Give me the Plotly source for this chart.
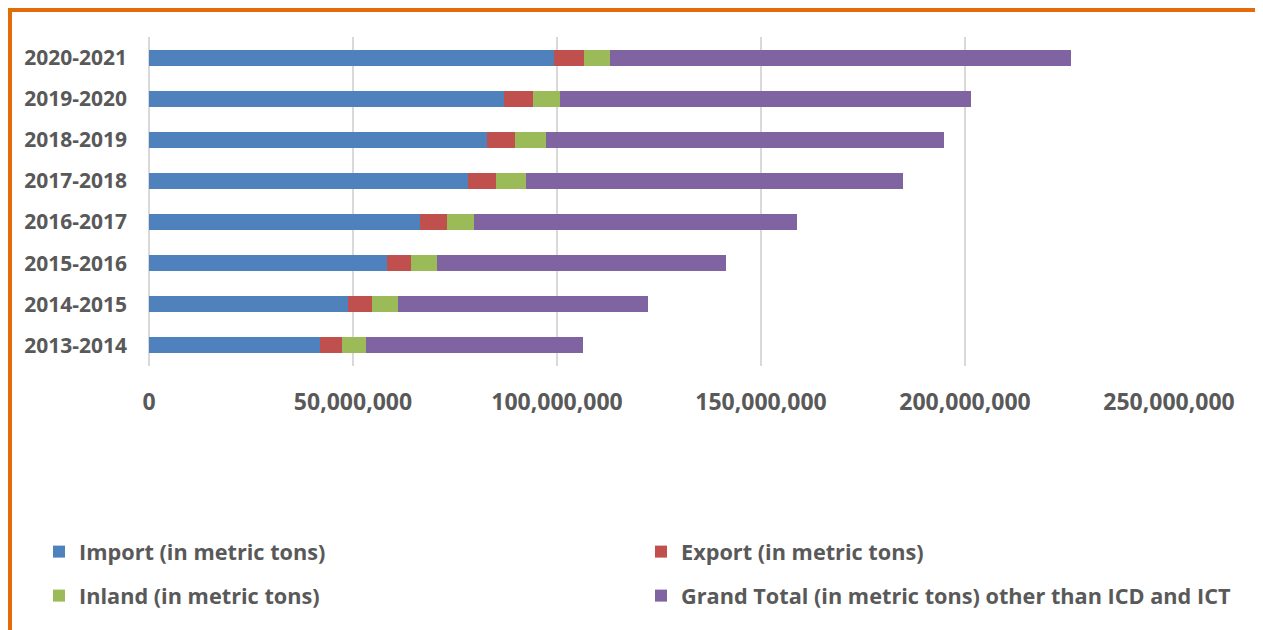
import plotly.graph_objects as go

years = ["2013-2014", "2014-2015", "2015-2016", "2016-2017",
         "2017-2018", "2018-2019", "2019-2020", "2020-2021"]
import_t = [42.0e6, 48.7e6, 58.3e6, 66.3e6, 78.2e6, 82.8e6, 87.0e6, 99.3e6]
export_t = [5.2e6, 5.9e6, 5.8e6, 6.7e6, 6.9e6, 6.9e6, 7.1e6, 7.3e6]
inland_t = [5.9e6, 6.5e6, 6.5e6, 6.6e6, 7.4e6, 7.6e6, 6.6e6, 6.4e6]
grand_t = [53.2e6, 61.1e6, 70.8e6, 79.2e6, 92.4e6, 97.6e6, 100.8e6, 113.0e6]
tick_vals = [0, 50e6, 100e6, 150e6, 200e6, 250e6]
tick_text = ["0", "50,000,000", "100,000,000", "150,000,000", "200,000,000", "250,000,000"]

# page body has an 8px margin: figure coords = screen coords - 8
OFF = 8
W, H = 1263 - OFF, 630 - OFF
L, T = 149 - OFF, 37 - OFF
R = W - (1169 - OFF)
B = H - (366 - OFF)
pw, ph = W - L - R, H - T - B

def px(xs):
    return (xs - OFF - L) / pw

def py(ys):
    return 1 - (ys - OFF - T) / ph

FONT = "Open Sans"
GRAY = "#595959"

# name, values, colour, legend id, legend screen position (left, middle-y)
series = [
    ("Import (in metric tons)", import_t, "#4F81BD", "legend", (39, 552)),
    ("Export (in metric tons)", export_t, "#C0504D", "legend2", (641, 552)),
    ("Inland (in metric tons)", inland_t, "#9BBB59", "legend3", (39, 596)),
    ("Grand Total (in metric tons) other than ICD and ICT", grand_t, "#8064A2", "legend4", (641, 596)),
]

fig = go.Figure()
legends = {}
for name, vals, col, lg, (lx, ly) in series:
    fig.add_trace(go.Bar(
        y=years, x=vals, name=name, orientation="h",
        marker=dict(color=col, line=dict(width=0)),
        legend=lg,
    ))
    legends[lg] = dict(
        x=px(lx), y=py(ly),
        orientation="h", xanchor="left", yanchor="middle",
        font=dict(family=FONT, size=21.7, color=GRAY, weight="bold"),
        bgcolor="rgba(0,0,0,0)",
    )

fig.update_layout(
    width=W, height=H,
    margin=dict(l=L, r=R, t=T, b=B),
    barmode="stack", bargap=0.61,
    paper_bgcolor="white", plot_bgcolor="white",
    xaxis=dict(range=[0, 250e6], tickvals=tick_vals, ticktext=tick_text,
               showgrid=True, gridcolor="#D9D9D9", gridwidth=2,
               zeroline=True, zerolinecolor="#D9D9D9", zerolinewidth=2,
               showline=False, ticks="", ticklabelstandoff=20,
               tickfont=dict(family=FONT, size=23, color=GRAY, weight="bold")),
    yaxis=dict(categoryorder="array", categoryarray=years,
               range=[-0.5, 7.5], showgrid=False, zeroline=False,
               showline=False, ticks="", ticklabelstandoff=21,
               tickfont=dict(family=FONT, size=21, color=GRAY, weight="bold")),
    showlegend=True,
    **legends,
)

ORANGE = "#E36C09"
# top edge
fig.add_shape(type="line", xref="paper", yref="paper",
              x0=px(8), x1=px(1263), y0=py(10), y1=py(10),
              line=dict(color=ORANGE, width=4), layer="above")
# left edge
fig.add_shape(type="line", xref="paper", yref="paper",
              x0=px(10), x1=px(10), y0=py(8), y1=py(640),
              line=dict(color=ORANGE, width=4), layer="above")
# right edge (thin)
fig.add_shape(type="line", xref="paper", yref="paper",
              x0=px(1259), x1=px(1259), y0=py(8), y1=py(640),
              line=dict(color="#EE9A55", width=2), layer="above")

fig.write_html("out.html")
